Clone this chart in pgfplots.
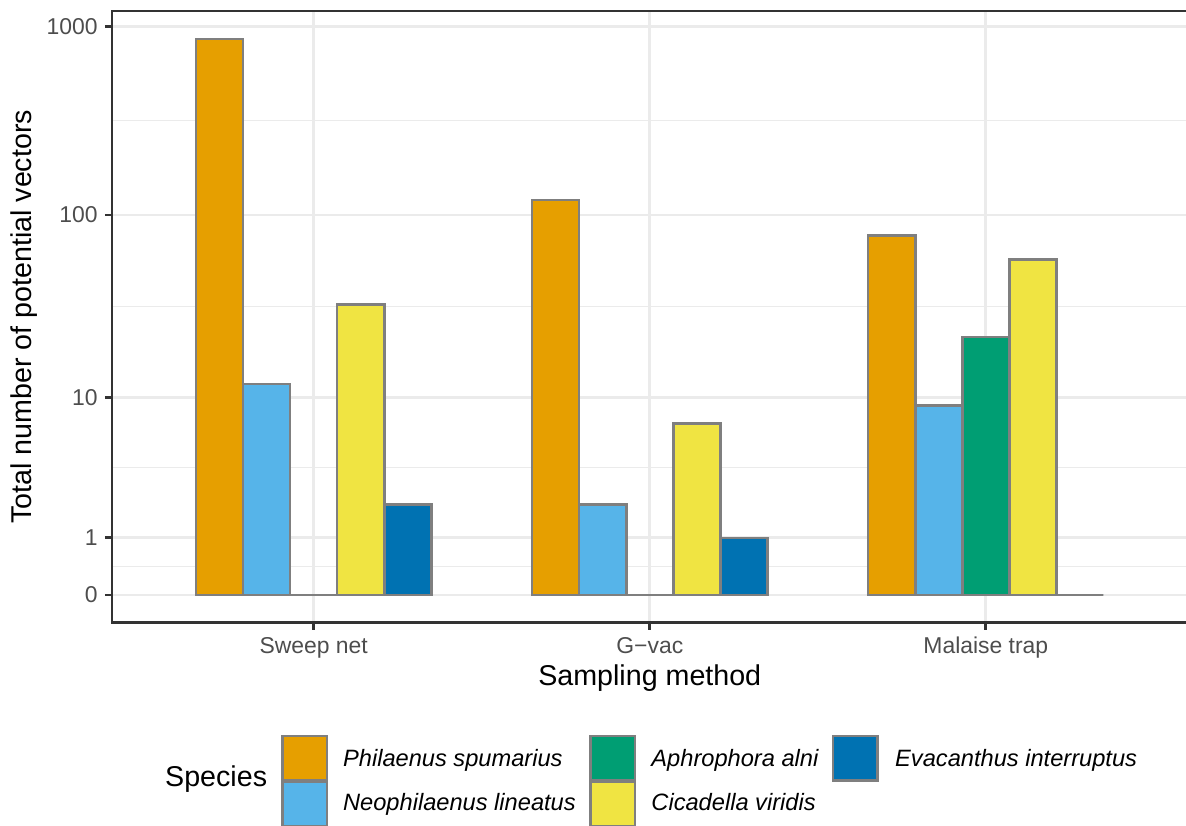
\documentclass[border=0pt]{standalone}
\usepackage{fontspec}
\setmainfont{Liberation Sans}
\usepackage{pgfplots}
\pgfplotsset{compat=1.18}
\usepackage{pgfplotstable}

\definecolor{cPs}{HTML}{E69F00}
\definecolor{cNl}{HTML}{56B4E9}
\definecolor{cAa}{HTML}{009E73}
\definecolor{cCv}{HTML}{F0E442}
\definecolor{cEi}{HTML}{0072B2}
\definecolor{barline}{HTML}{7F7F7F}
\definecolor{gridc}{HTML}{EBEBEB}
\definecolor{grey20}{HTML}{333333}
\definecolor{grey30}{HTML}{4D4D4D}

% raw counts; plotted on a log10(count+1) scale
\pgfplotstableread{
x Ps Nl Aa Cv Ei
1 858 12 0 33 2
2 120 2 0 7 1
3 78 9 22 58 0
}\datatable

\begin{document}
\begin{tikzpicture}
\path[use as bounding box] (-53.8pt,-97.2pt) rectangle (515.5pt,298.9pt);
\begin{axis}[
  at={(0,0)}, anchor=south west,
  scale only axis, width=516.2pt, height=293.6pt,
  xmin=0.4, xmax=3.6, ymin=-0.1467, ymax=3.0807,
  ybar, bar width=0.14,
  xtick={1,2,3}, xticklabels={Sweep net, G−vac, Malaise trap},
  ytick={0,0.30103,1.04139,2.00432,3.00043},
  yticklabels={0,1,10,100,1000},
  minor ytick={0.150515,0.671211,1.522855,2.502375},
  ymajorgrids, xmajorgrids, yminorgrids,
  major grid style={gridc, line width=1.3pt},
  minor grid style={gridc, line width=0.65pt},
  axis line style={grey20, line width=1.3pt},
  tick style={grey20, line width=1.3pt},
  major tick length=3.4pt, minor tick length=0pt,
  tick align=outside, tick pos=left,
  /pgf/number format/assume math mode=true,
  ticklabel style={font=\fontsize{11}{13}\selectfont, text=grey30},
  yticklabel style={anchor=east},
  xticklabel style={anchor=north},
  xlabel={Sampling method},
  ylabel={Total number of potential vectors},
  xlabel style={at={(axis description cs:0.5,-0.10201)}, anchor=base, font=\fontsize{13.75}{16}\selectfont},
  ylabel style={at={(axis description cs:-0.07536,0.5)}, anchor=base, font=\fontsize{13.75}{16}\selectfont},
]
\addplot[fill=cPs, draw=barline, line width=1.2pt, bar shift=-0.28] table[x=x, y expr={log10(\thisrow{Ps}+1)}] {\datatable};
\addplot[fill=cNl, draw=barline, line width=1.2pt, bar shift=-0.14] table[x=x, y expr={log10(\thisrow{Nl}+1)}] {\datatable};
\addplot[fill=cAa, draw=barline, line width=1.2pt, bar shift=0] table[x=x, y expr={log10(\thisrow{Aa}+1)}] {\datatable};
\addplot[fill=cCv, draw=barline, line width=1.2pt, bar shift=0.14] table[x=x, y expr={log10(\thisrow{Cv}+1)}] {\datatable};
\addplot[fill=cEi, draw=barline, line width=1.2pt, bar shift=0.28] table[x=x, y expr={log10(\thisrow{Ei}+1)}] {\datatable};
\end{axis}
% legend
\begin{scope}[every node/.style={inner sep=0pt}]
\node[anchor=base west, font=\fontsize{13.75}{16}\selectfont] at (25.3pt,-78.6pt) {Species};
\foreach \xx/\col in {81.9/cPs, 229.7/cAa, 346.1/cEi}
  \draw[fill=\col, draw=barline, line width=1.2pt] (\xx pt,-54.4pt) rectangle ++(21.3pt,-21.3pt);
\foreach \xx/\col in {81.9/cNl, 229.7/cCv}
  \draw[fill=\col, draw=barline, line width=1.2pt] (\xx pt,-76.4pt) rectangle ++(21.3pt,-21.3pt);
\begin{scope}[every node/.style={inner sep=0pt, anchor=base west, font=\fontsize{11.35}{13}\selectfont\itshape}]
\node at (110.7pt,-69.2pt) {Philaenus spumarius};
\node at (110.7pt,-90.3pt) {Neophilaenus lineatus};
\node at (258.7pt,-69.2pt) {Aphrophora alni};
\node at (258.7pt,-90.3pt) {Cicadella viridis};
\node at (375.7pt,-69.2pt) {Evacanthus interruptus};
\end{scope}
\end{scope}
\end{tikzpicture}
\end{document}
